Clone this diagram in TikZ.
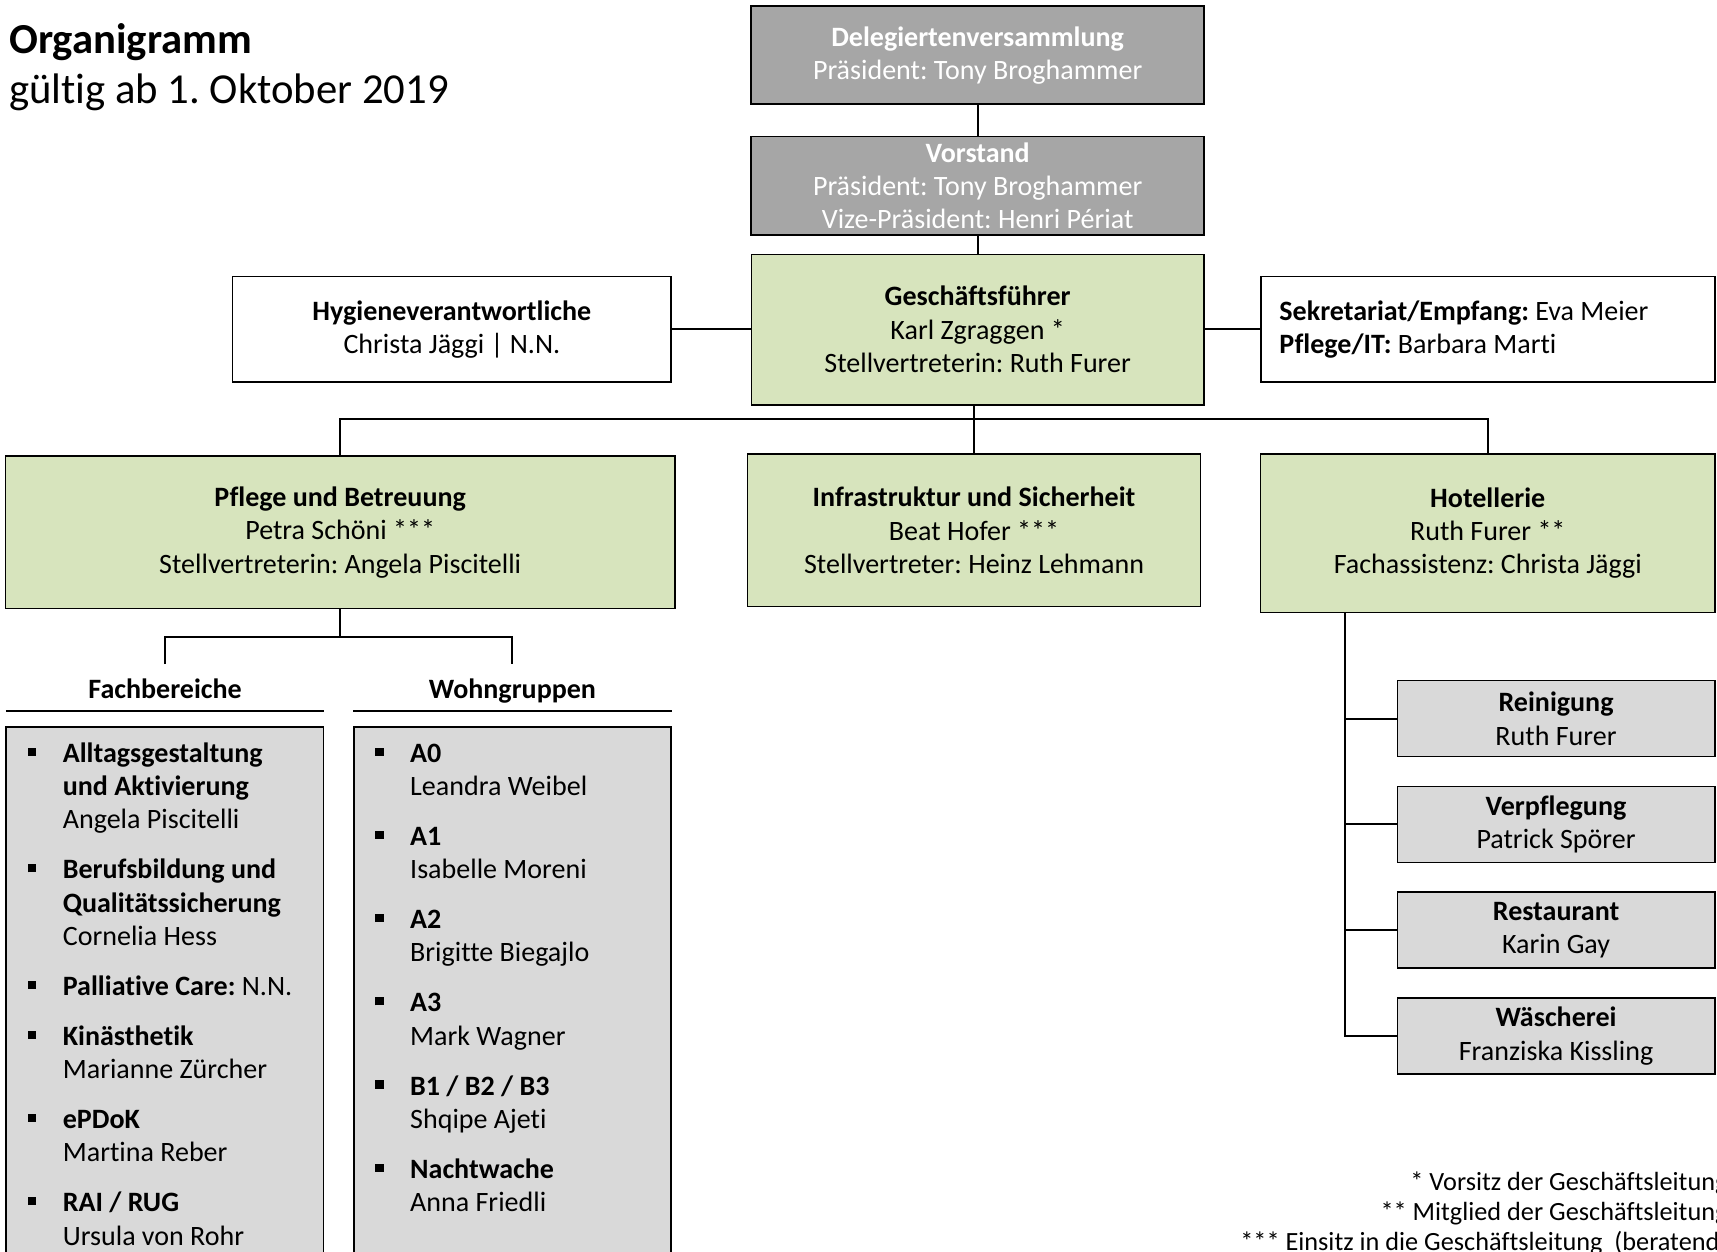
\documentclass[tikz,border=0pt]{standalone}
\usepackage{fontspec}
\setmainfont{Carlito}[Ligatures=NoCommon]

\definecolor{govgray}{HTML}{A6A6A6}
\definecolor{leadgreen}{HTML}{D7E4BD}
\definecolor{unitgray}{HTML}{D9D9D9}
\newcommand{\bodyfont}{\fontsize{12.8}{15.25}\selectfont}
\newcommand{\listbullet}{\rule[2.95pt]{3.7pt}{3.7pt}}

\begin{document}
\frenchspacing
\begin{tikzpicture}[x=0.5pt, y=-0.5pt,
    base/.style = {rectangle, draw=black, line width=0.7pt, inner sep=0pt,
align=center, font=\bodyfont},
    govbox/.style = {base, fill=govgray, text=white, minimum width=206.8pt,
minimum height=44.8pt},
    leadbox/.style = {base, fill=leadgreen, minimum width=207pt, minimum height=69.5pt},
    staffbox/.style = {base, fill=white, minimum height=48.15pt},
    unitbox/.style = {base, fill=unitgray, minimum width=145pt, minimum height=34.7pt},
    listbox/.style = {base, fill=unitgray, minimum width=144.95pt,
minimum height=250pt, anchor=north},
    listhead/.style = {font=\bodyfont\bfseries, anchor=base, inner sep=0pt,
minimum width=144.95pt, text height=15.5pt, text depth=5.5pt},
    link/.style = {draw=black, line width=0.9pt},
    node distance=48.3pt
]

  \useasboundingbox (0,0) rectangle (1568,1143);
  \clip (0,0) rectangle (1568,1143);

  \node (title) [anchor=base west, inner sep=0pt, font=\fontsize{19.5}{22.8}\selectfont] at (8,48.7)
    {\begin{tabular}[t]{@{}l@{}}\textbf{Organigramm}\\gültig ab 1. Oktober 2019\end{tabular}};

  % Gremien und Leitung
  \node (deleg)    [govbox, text depth=1.5pt] at (892.8,50.25) {\textbf{Delegiertenversammlung}\\Präsident: Tony Broghammer};
  \node (vorstand) [govbox, below of=deleg, yshift=-11.4pt, minimum height=44.9pt]
    {\textbf{Vorstand}\\Präsident: Tony Broghammer\\Vize-Präsident: Henri Périat};
  \node (gf)       [leadbox, below of=vorstand, yshift=-17.4pt, minimum width=206.6pt, minimum height=68.8pt]
    {\textbf{Geschäftsführer}\\Karl Zgraggen *\\Stellvertreterin: Ruth Furer};
  \node (hyg)      [staffbox, minimum width=200.15pt] at (412.65,300.85)
    {\textbf{Hygieneverantwortliche}\\Christa Jäggi | N.N.};
  \node (sek)      [staffbox, align=flush left, text width=190.3pt, inner xsep=8.5pt] at (1358.7,300.85)
    {\textbf{Sekretariat/Empfang:} Eva Meier\\\textbf{Pflege/IT:} Barbara Marti};

  % Bereiche
  \node (pflege) [leadbox, minimum width=305.75pt] at (310.65,486)
    {\textbf{Pflege und Betreuung}\\Petra Schöni ***\\Stellvertreterin: Angela Piscitelli};
  \node (infra)  [leadbox, minimum height=69.7pt] at (889.5,484.3)
    {\textbf{Infrastruktur und Sicherheit}\\Beat Hofer ***\\Stellvertreter: Heinz Lehmann};
  \node (hotel)  [leadbox, minimum width=207.35pt, minimum height=72.3pt] at (1358.65,486.9)
    {\textbf{Hotellerie}\\Ruth Furer **\\Fachassistenz: Christa Jäggi};

  \coordinate (bus) at (889.5,382.6);
  \draw[link] (deleg) -- (vorstand);
  \draw[link] (vorstand) -- (gf);
  \draw[link] (hyg) -- (hyg -| gf.west);
  \draw[link] (sek) -- (sek -| gf.east);
  \draw[link] (infra.north |- gf.south) -- (infra.north);
  \draw[link] (pflege.north) |- (bus) -| (hotel.north);

  % Hotellerie
  \node (reinigung)   [unitbox] at (1421,656.3) {\textbf{Reinigung}\\Ruth Furer};
  \node (verpflegung) [unitbox, below of=reinigung] {\textbf{Verpflegung}\\Patrick Spörer};
  \node (restaurant)  [unitbox, below of=verpflegung] {\textbf{Restaurant}\\Karin Gay};
  \node (waescherei)  [unitbox, below of=restaurant] {\textbf{Wäscherei}\\Franziska Kissling};

  \coordinate (hoteltrunk) at ([xshift=-65pt]hotel.south);
  \draw[link] (hoteltrunk) |- (waescherei.west);
  \draw[link] (hoteltrunk |- reinigung.west) -- (reinigung.west);
  \draw[link] (hoteltrunk |- verpflegung.west) -- (verpflegung.west);
  \draw[link] (hoteltrunk |- restaurant.west) -- (restaurant.west);

  % Pflege und Betreuung
  \node (fachhead) [listhead] at (150.8,638) {Fachbereiche};
  \node (wohnhead) [listhead] at (468,638) {Wohngruppen};
  \coordinate (pflegefork) at ([yshift=-12.75pt]pflege.south);
  \draw[link] (pflege.south) -- (pflegefork);
  \draw[link] (fachhead.north) |- (pflegefork) -| (wohnhead.north);
  \draw[line width=0.7pt] (fachhead.south west) -- (fachhead.south east);
  \draw[line width=0.7pt] (wohnhead.south west) -- (wohnhead.south east);

  \node (fachbox) [listbox] at (150.65,663) {};
  \node (wohnbox) [listbox] at (468.05,663) {};

  \node (fachlist) [anchor=base west, inner sep=0pt, font=\bodyfont] at (25.3,696)
    {\begin{tabular}[t]{@{}p{15.85pt}@{}l@{}}
      \listbullet & \textbf{Alltagsgestaltung}\\
                  & \textbf{und Aktivierung}\\
                  & Angela Piscitelli\\[7.5pt]
      \listbullet & \textbf{Berufsbildung und}\\
                  & \textbf{Qualitätssicherung}\\
                  & Cornelia Hess\\[7.5pt]
      \listbullet & \textbf{Palliative Care:} N.N.\\[7.5pt]
      \listbullet & \textbf{Kinästhetik}\\
                  & Marianne Zürcher\\[7.5pt]
      \listbullet & \textbf{ePDoK}\\
                  & Martina Reber\\[7.5pt]
      \listbullet & \textbf{RAI / RUG}\\
                  & Ursula von Rohr
    \end{tabular}};
  \node (wohnlist) [anchor=base west, inner sep=0pt, font=\bodyfont] at (342.5,696)
    {\begin{tabular}[t]{@{}p{15.85pt}@{}l@{}}
      \listbullet & \textbf{A0}\\
                  & Leandra Weibel\\[7.5pt]
      \listbullet & \textbf{A1}\\
                  & Isabelle Moreni\\[7.5pt]
      \listbullet & \textbf{A2}\\
                  & Brigitte Biegajlo\\[7.5pt]
      \listbullet & \textbf{A3}\\
                  & Mark Wagner\\[7.5pt]
      \listbullet & \textbf{B1 / B2 / B3}\\
                  & Shqipe Ajeti\\[7.5pt]
      \listbullet & \textbf{Nachtwache}\\
                  & Anna Friedli
    \end{tabular}};

  \node (legend) [anchor=base east, inner sep=0pt, font=\fontsize{12}{13.7}\selectfont] at (1578,1087.4)
    {\begin{tabular}[t]{@{}r@{}}
      {}* Vorsitz der Geschäftsleitung\\
      {}** Mitglied der Geschäftsleitung\\
      {}*** Einsitz in die Geschäftsleitung\ \ (beratend)
    \end{tabular}};

\end{tikzpicture}
\end{document}
